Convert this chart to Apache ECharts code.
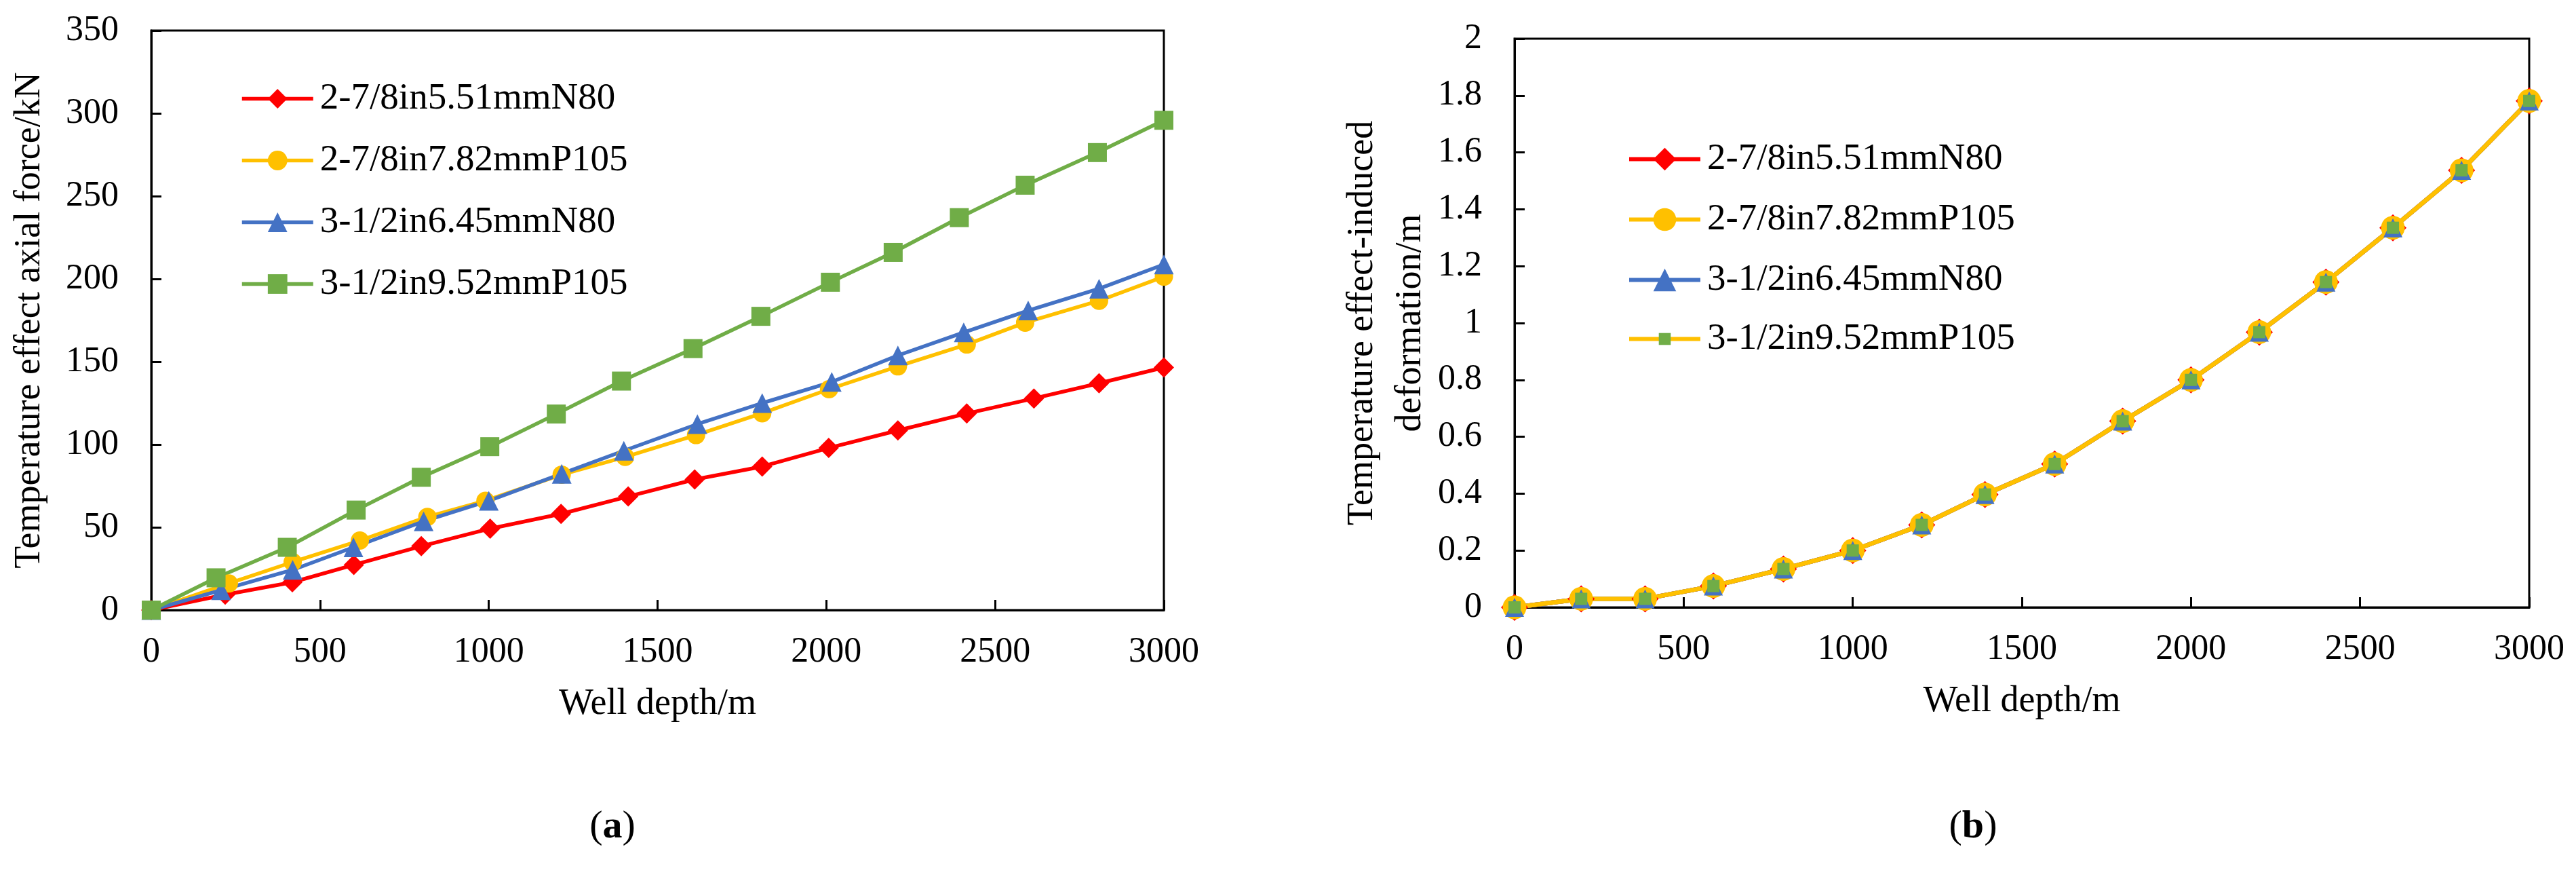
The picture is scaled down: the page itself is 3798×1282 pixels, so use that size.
<!DOCTYPE html>
<html>
<head>
<meta charset="utf-8">
<script src="https://cdn.jsdelivr.net/npm/echarts@6/dist/echarts.min.js"></script>
<style>html,body{margin:0;padding:0;background:#fff}#c{width:3798px;height:1282px}</style>
</head>
<body>
<div id="c"></div>
<script>
// ---------- names ----------
const seriesNames = ['2-7/8in5.51mmN80', '2-7/8in7.82mmP105', '3-1/2in6.45mmN80', '3-1/2in9.52mmP105'];
const xAxisName = 'Well depth/m';
const yAxisNameA = 'Temperature effect axial force/kN';
const yAxisNameB = 'Temperature effect-induced\ndeformation/m';
const panelLabels = ['a', 'b'];

// ---------- panel (a): axial force (kN) vs well depth (m) ----------
const depthA_N80_278 = [0, 219, 418, 600, 800, 1004, 1214, 1413, 1610, 1810, 2007, 2212, 2416, 2615, 2808, 3000];
const forceA_N80_278 = [0, 9.3, 16.8, 27.3, 38.6, 49.2, 58.1, 68.6, 78.9, 86.7, 97.9, 108.5, 118.7, 127.8, 137, 146.5];
const depthA_P105_278 = [0, 230, 419, 618, 818, 990, 1216, 1404, 1614, 1810, 2008, 2212, 2416, 2589, 2808, 3000];
const forceA_P105_278 = [0, 16.1, 29, 42, 56.3, 66, 81.8, 92.5, 105.7, 118.9, 133.4, 147.2, 160.4, 173.6, 186.8, 201.4];
const depthA_N80_312 = [0, 207, 419, 599, 807, 1000, 1216, 1400, 1618, 1810, 2016, 2212, 2407, 2598, 2808, 3000];
const forceA_N80_312 = [0, 12, 24.3, 37.9, 53.6, 66, 82.3, 96.2, 112.3, 125, 137.8, 153.8, 167.7, 180.9, 194.1, 208.7];
const depthA_P105_312 = [0, 192, 403, 607, 800, 1003, 1200, 1393, 1605, 1806, 2012, 2198, 2394, 2589, 2803, 3000];
const forceA_P105_312 = [0, 19.5, 37.9, 60.4, 80.2, 98.7, 118.4, 138.3, 157.9, 177.4, 198, 216, 237, 256.6, 276.3, 295.8];

// ---------- panel (b): deformation (m) vs well depth (m) ----------
const depthB = [0, 197, 386, 588, 795, 1000, 1204, 1391, 1597, 1798, 2000, 2202, 2399, 2597, 2800, 3000];
const deformB_N80_278 = [0, 0.03, 0.03, 0.075, 0.135, 0.2, 0.29, 0.397, 0.504, 0.655, 0.8, 0.968, 1.144, 1.335, 1.537, 1.781];
const deformB_P105_278 = [0, 0.03, 0.03, 0.075, 0.135, 0.2, 0.29, 0.397, 0.504, 0.655, 0.8, 0.968, 1.144, 1.335, 1.537, 1.781];
const deformB_N80_312 = [0, 0.03, 0.03, 0.075, 0.135, 0.2, 0.29, 0.397, 0.504, 0.655, 0.8, 0.968, 1.144, 1.335, 1.537, 1.781];
const deformB_P105_312 = [0, 0.03, 0.03, 0.075, 0.135, 0.2, 0.29, 0.397, 0.504, 0.655, 0.8, 0.968, 1.144, 1.335, 1.537, 1.781];

// ---------- helpers ----------
const FONT = 'Liberation Serif';
const RED = '#FF0000', YEL = '#FFC000', BLU = '#4472C4', GRN = '#70AD47';
const zip = (xs, ys) => xs.map((x, i) => [x, ys[i]]);
const plain = v => String(Math.round(v * 1000) / 1000);

function lineSeries(name, xi, yi, data, color, symbol, size, lineColor, lineWidth) {
  return {
    name: name, type: 'line', xAxisIndex: xi, yAxisIndex: yi, data: data,
    symbol: symbol, symbolSize: size, showAllSymbol: true,
    lineStyle: { color: lineColor || color, width: lineWidth },
    itemStyle: { color: color, borderWidth: 0 },
    emphasis: { disabled: true }, animation: false
  };
}

function xAxisCfg(gi) {
  return {
    type: 'value', gridIndex: gi, min: 0, max: 3000, interval: 500,
    name: xAxisName, nameLocation: 'middle', nameGap: 112,
    nameTextStyle: { fontFamily: FONT, fontSize: 54, color: '#000' },
    axisLine: { lineStyle: { color: '#000', width: 3 } },
    axisTick: { inside: true, length: 15, lineStyle: { color: '#000', width: 3 } },
    axisLabel: { fontFamily: FONT, fontSize: 52, color: '#000', margin: 36, formatter: plain },
    splitLine: { show: false }
  };
}

function yAxisCfg(gi, max, interval, name, gap, lh) {
  return {
    type: 'value', gridIndex: gi, min: 0, max: max, interval: interval,
    name: name, nameLocation: 'middle', nameGap: gap,
    nameTextStyle: { fontFamily: FONT, fontSize: 54, color: '#000', lineHeight: lh },
    axisLine: { lineStyle: { color: '#000', width: 3 } },
    axisTick: { inside: true, length: 15, lineStyle: { color: '#000', width: 3 } },
    axisLabel: { fontFamily: FONT, fontSize: 52, color: '#000', margin: 48, formatter: plain },
    splitLine: { show: false }
  };
}

const legendText = { fontFamily: FONT, fontSize: 55, color: '#000', lineHeight: 55, padding: [0, 0, 0, 5] };

const option = {
  backgroundColor: '#fff',
  animation: false,
  grid: [
    { left: 223, top: 45, right: 3798 - 1716, bottom: 1282 - 899, show: true, borderColor: '#000', borderWidth: 3 },
    { left: 2233, top: 57, right: 3798 - 3729, bottom: 1282 - 895, show: true, borderColor: '#000', borderWidth: 3 }
  ],
  xAxis: [xAxisCfg(0), xAxisCfg(1)],
  yAxis: [
    yAxisCfg(0, 350, 50, yAxisNameA, 152, 54),
    yAxisCfg(1, 2, 0.2, yAxisNameB, 118, 71)
  ],
  legend: [
    {
      orient: 'vertical', left: 354, top: 118, padding: 0, itemGap: 36,
      itemWidth: 105, itemHeight: 36, selectedMode: false,
      lineStyle: { width: 5.5 },
      data: seriesNames, textStyle: legendText
    },
    {
      orient: 'vertical', left: 2399, top: 207, padding: 0, itemGap: 34,
      itemWidth: 105, itemHeight: 42, selectedMode: false,
      lineStyle: { width: 6 },
      data: seriesNames.slice(0, 3), textStyle: legendText
    },
    {
      orient: 'vertical', left: 2399, top: 472, padding: 0,
      itemWidth: 105, itemHeight: 22, selectedMode: false,
      lineStyle: { width: 6 },
      data: [{ name: seriesNames[3], lineStyle: { color: YEL, width: 6 }, itemStyle: { color: GRN } }],
      textStyle: legendText
    }
  ],
  graphic: panelLabels.map((p, i) => ({
    type: 'text', x: i === 0 ? 903 : 2909, y: 1219,
    style: {
      text: '({b|' + p + '})', fontFamily: FONT, fontSize: 58, fill: '#000',
      align: 'center', verticalAlign: 'middle',
      rich: { b: { fontFamily: FONT, fontSize: 58, fontWeight: 'bold', fill: '#000' } }
    }
  })),
  series: [
    lineSeries(seriesNames[0], 0, 0, zip(depthA_N80_278, forceA_N80_278), RED, 'diamond', 30, null, 5.5),
    lineSeries(seriesNames[1], 0, 0, zip(depthA_P105_278, forceA_P105_278), YEL, 'circle', 27, null, 5.5),
    lineSeries(seriesNames[2], 0, 0, zip(depthA_N80_312, forceA_N80_312), BLU, 'triangle', 29, null, 5.5),
    lineSeries(seriesNames[3], 0, 0, zip(depthA_P105_312, forceA_P105_312), GRN, 'rect', 28, null, 5.5),
    lineSeries(seriesNames[0], 1, 1, zip(depthB, deformB_N80_278), RED, 'diamond', 40, null, 6.5),
    lineSeries(seriesNames[1], 1, 1, zip(depthB, deformB_P105_278), YEL, 'circle', 35, null, 6.5),
    lineSeries(seriesNames[2], 1, 1, zip(depthB, deformB_N80_312), BLU, 'triangle', 28, null, 6.5),
    lineSeries(seriesNames[3], 1, 1, zip(depthB, deformB_P105_312), GRN, 'rect', 18, YEL, 6.5)
  ]
};

const chart = echarts.init(document.getElementById('c'), null, { renderer: 'canvas' });
chart.setOption(option);
</script>
</body>
</html>
